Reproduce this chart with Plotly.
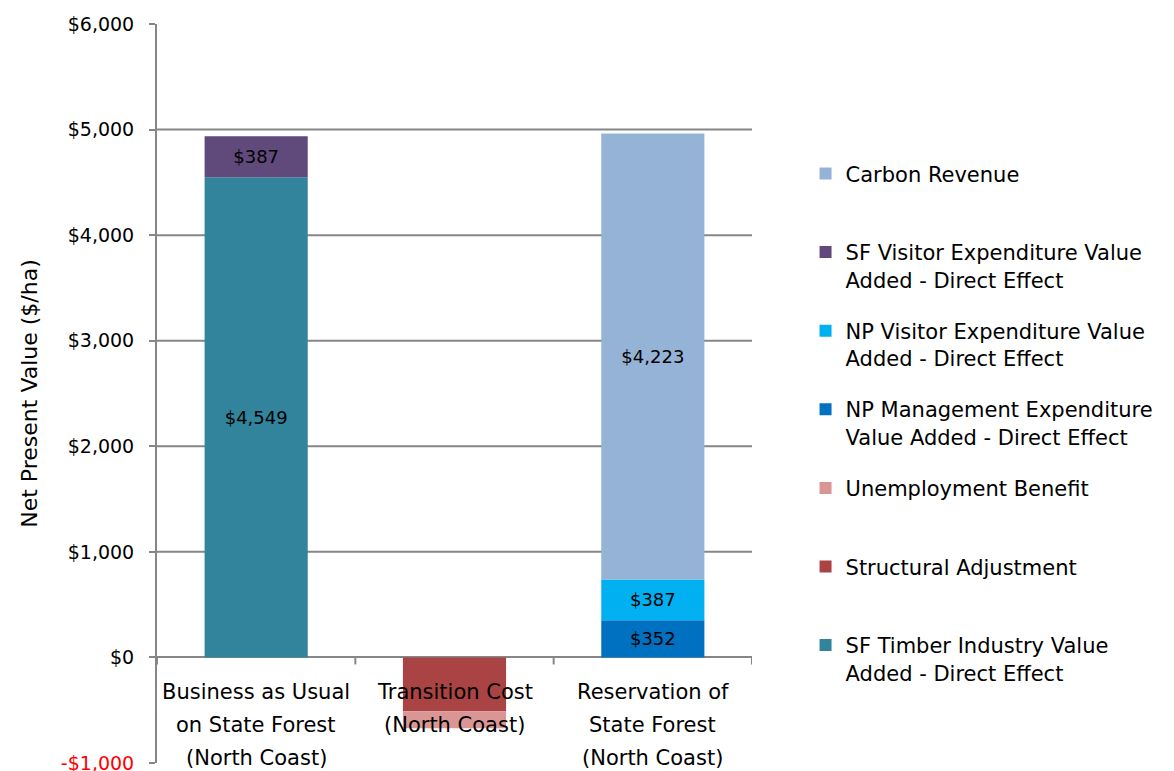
import plotly.graph_objects as go

# Scenario categories (x axis), each split into the lines shown under the axis
categories = ["BAU", "Transition", "Reservation"]
category_lines = [
    ["Business as Usual", "on State Forest", "(North Coast)"],
    ["Transition Cost", "(North Coast)"],
    ["Reservation of", "State Forest", "(North Coast)"],
]

# Net present value components ($/ha), stacked from the zero line outward
sf_timber = [4549, None, None]
structural_adjustment = [None, -510, None]
unemployment_benefit = [None, -160, None]
np_management = [None, None, 352]
np_visitor = [None, None, 387]
sf_visitor = [387, None, None]
carbon_revenue = [None, None, 4223]

# Y-axis ticks
y_ticks = [-1000, 0, 1000, 2000, 3000, 4000, 5000, 6000]
y_tick_text = ['<span style="color:#ff0000">-$1,000</span>', "$0", "$1,000",
               "$2,000", "$3,000", "$4,000", "$5,000", "$6,000"]
grid_values = [1000, 2000, 3000, 4000, 5000]

# (legend name, values, colour, show value label, legend rank)
series = [
    ("SF Timber Industry Value<br>Added - Direct Effect", sf_timber, "#31849B", True, 7),
    ("Structural Adjustment<br> ", structural_adjustment, "#AA4343", False, 6),
    ("Unemployment Benefit<br> ", unemployment_benefit, "#D99694", False, 5),
    ("NP Management Expenditure<br>Value Added - Direct Effect", np_management, "#0070C0", True, 4),
    ("NP Visitor Expenditure Value<br>Added - Direct Effect", np_visitor, "#00B0F0", True, 3),
    ("SF Visitor Expenditure Value<br>Added - Direct Effect", sf_visitor, "#604A7B", True, 2),
    ("Carbon Revenue<br> ", carbon_revenue, "#95B3D7", True, 1),
]

FONT = "DejaVu Sans"
fig = go.Figure()
for i, (name, vals, color, labelled, rank) in enumerate(series):
    fig.add_trace(go.Bar(
        x=categories, y=vals, name=name, legendgroup=f"g{i}", legendrank=rank,
        marker=dict(color=color, line=dict(width=0)),
        width=0.52,
        texttemplate="$%{y:,}" if labelled else "",
        textposition="inside", insidetextanchor="middle", textangle=0,
        constraintext="none",
        textfont=dict(family=FONT, size=18, color="#000000"),
    ))

# Horizontal gridlines
for g in grid_values:
    fig.add_shape(type="line", xref="paper", x0=0, x1=1, yref="y", y0=g, y1=g,
                  line=dict(color="#868686", width=2), layer="below")

# Small tick marks on the zero line between categories
for xb in [-0.5, 0.5, 1.5, 2.5]:
    fig.add_shape(type="line", xref="x", x0=xb, x1=xb, yref="y",
                  ysizemode="pixel", yanchor=0, y0=0, y1=-7,
                  line=dict(color="#868686", width=2))

# Category labels hanging just below the zero line
for cat, lines in zip(categories, category_lines):
    for j, line in enumerate(lines):
        fig.add_annotation(x=cat, y=0, xref="x", yref="y", text=line,
                           showarrow=False, yanchor="middle",
                           yshift=-35 - 33 * j,
                           font=dict(family=FONT, size=21, color="#000000"))

fig.update_layout(
    width=1174, height=771,
    margin=dict(l=157, r=422, t=24, b=8, autoexpand=False),
    paper_bgcolor="white", plot_bgcolor="white",
    barmode="relative",
    showlegend=True,
    legend=dict(
        x=1.09, xanchor="left", y=0.825, yanchor="top",
        traceorder="grouped", tracegroupgap=21,
        valign="top",
        font=dict(family=FONT, size=21, color="#000000"),
    ),
    xaxis=dict(showticklabels=False, showgrid=False, zeroline=False,
               showline=False, range=[-0.5, 2.5], automargin=False),
    yaxis=dict(
        range=[-1000, 6000], tickvals=y_ticks, ticktext=y_tick_text,
        automargin=False,
        showgrid=False, zeroline=True, zerolinecolor="#868686", zerolinewidth=2,
        showline=True, linecolor="#868686", linewidth=2,
        ticks="outside", ticklen=6, tickcolor="#868686", tickwidth=2,
        ticklabelstandoff=11, ticklabeloverflow="allow",
        tickfont=dict(family=FONT, size=19, color="#000000"),
        title=dict(text="Net Present Value ($/ha)", standoff=17,
                   font=dict(family=FONT, size=22, color="#000000")),
    ),
)

fig.write_html("out.html")
